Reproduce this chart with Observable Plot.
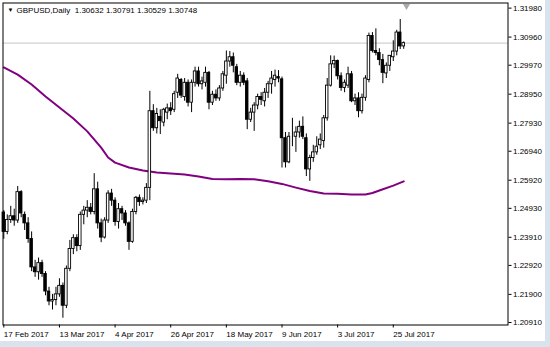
<!DOCTYPE html>
<html>
<head>
<meta charset="utf-8">
<script src="https://cdn.jsdelivr.net/npm/d3@7"></script>
<script src="https://cdn.jsdelivr.net/npm/@observablehq/plot@0.6"></script>
<style>
  html, body { margin: 0; padding: 0; background: #d9e3ee; }
  #chart { width: 545px; height: 341px; background: #ffffff; overflow: hidden; }
  #chart svg { display: block; }
</style>
</head>
<body>
<div id="chart"></div>
<script>
// ---- data (GBPUSD daily, 17 Feb 2017 .. 28 Jul 2017) ----
const opens = [1.2478,1.2410,1.2452,1.2465,1.2450,1.2550,1.2470,1.2440,1.2385,1.2285,1.2268,1.2300,1.2262,1.2200,1.2165,1.2170,1.2190,1.2220,1.2150,1.2280,1.2350,1.2388,1.2360,1.2470,1.2485,1.2495,1.2480,1.2560,1.2440,1.2390,1.2450,1.2545,1.2520,1.2445,1.2490,1.2475,1.2440,1.2375,1.2480,1.2530,1.2515,1.2520,1.2565,1.2835,1.2775,1.2815,1.2795,1.2830,1.2845,1.2840,1.2900,1.2945,1.2885,1.2935,1.2865,1.2935,1.2975,1.2930,1.2935,1.2970,1.2865,1.2893,1.2880,1.2915,1.2960,1.3010,1.3025,1.2990,1.2935,1.2960,1.2940,1.2805,1.2830,1.2855,1.2885,1.2870,1.2900,1.2930,1.2945,1.2955,1.2947,1.2740,1.2655,1.2745,1.2745,1.2760,1.2780,1.2740,1.2630,1.2670,1.2690,1.2715,1.2730,1.2810,1.2925,1.3000,1.3012,1.2958,1.2917,1.2925,1.2965,1.2870,1.2880,1.2835,1.2882,1.2945,1.3100,1.3047,1.3040,1.3015,1.2968,1.2995,1.3025,1.3045,1.3112,1.30632];
const highs = [1.2485,1.2470,1.2500,1.2490,1.2570,1.2555,1.2480,1.2460,1.2410,1.2310,1.2318,1.2310,1.2270,1.2215,1.2190,1.2215,1.2245,1.2230,1.2290,1.2380,1.2400,1.2400,1.2480,1.2500,1.2520,1.2510,1.2615,1.2585,1.2455,1.2460,1.2555,1.2560,1.2530,1.2510,1.2500,1.2485,1.2445,1.2490,1.2535,1.2540,1.2530,1.2580,1.2905,1.2858,1.2845,1.2840,1.2845,1.2860,1.2865,1.2905,1.2965,1.2950,1.2950,1.2945,1.2945,1.2990,1.2990,1.2955,1.2990,1.2975,1.2905,1.2910,1.2925,1.2975,1.3047,1.3045,1.3040,1.3000,1.2975,1.2970,1.2950,1.2845,1.2865,1.2895,1.2900,1.2915,1.2940,1.2975,1.2980,1.2978,1.2955,1.2760,1.2760,1.2810,1.2780,1.2800,1.2815,1.2755,1.2680,1.2715,1.2745,1.2755,1.2820,1.2950,1.3030,1.3029,1.3015,1.2970,1.2945,1.2990,1.2975,1.2895,1.2900,1.2895,1.2960,1.3110,1.3112,1.3125,1.3055,1.3035,1.3005,1.3030,1.3083,1.3120,1.3158,1.30791];
const lows = [1.2384,1.2400,1.2440,1.2430,1.2440,1.2460,1.2415,1.2370,1.2270,1.2250,1.2240,1.2250,1.2185,1.2150,1.2135,1.2150,1.2180,1.2106,1.2140,1.2270,1.2330,1.2340,1.2345,1.2435,1.2460,1.2470,1.2470,1.2420,1.2372,1.2385,1.2440,1.2500,1.2430,1.2420,1.2450,1.2430,1.2345,1.2370,1.2470,1.2500,1.2505,1.2510,1.2520,1.2764,1.2755,1.2753,1.2780,1.2805,1.2820,1.2830,1.2880,1.2880,1.2870,1.2850,1.2830,1.2920,1.2920,1.2910,1.2920,1.2840,1.2855,1.2870,1.2870,1.2905,1.2930,1.2990,1.2970,1.2925,1.2920,1.2925,1.2770,1.2795,1.2764,1.2840,1.2855,1.2850,1.2880,1.2895,1.2920,1.2935,1.2635,1.2635,1.2650,1.2710,1.2690,1.2740,1.2735,1.2605,1.2588,1.2655,1.2680,1.2700,1.2705,1.2800,1.2920,1.2985,1.2945,1.2905,1.2900,1.2915,1.2865,1.2855,1.2812,1.2825,1.2870,1.2935,1.3040,1.3030,1.2995,1.2932,1.2950,1.2975,1.3010,1.3030,1.3052,1.30529];
const closes = [1.2410,1.2452,1.2465,1.2450,1.2550,1.2475,1.2440,1.2385,1.2285,1.2268,1.2300,1.2262,1.2200,1.2165,1.2170,1.2190,1.2220,1.2150,1.2280,1.2350,1.2388,1.2360,1.2470,1.2485,1.2495,1.2480,1.2560,1.2440,1.2390,1.2450,1.2545,1.2520,1.2445,1.2490,1.2475,1.2440,1.2375,1.2480,1.2530,1.2515,1.2520,1.2565,1.2835,1.2775,1.2825,1.2800,1.2840,1.2845,1.2835,1.2895,1.2950,1.2890,1.2935,1.2865,1.2935,1.2975,1.2930,1.2940,1.2970,1.2865,1.2893,1.2880,1.2915,1.2965,1.3010,1.3025,1.2995,1.2935,1.2960,1.2935,1.2805,1.2830,1.2855,1.2885,1.2875,1.2900,1.2930,1.2950,1.2960,1.2950,1.2740,1.2655,1.2745,1.2745,1.2760,1.2780,1.2745,1.2630,1.2670,1.2690,1.2710,1.2735,1.2810,1.2925,1.3000,1.3012,1.2958,1.2917,1.2935,1.2965,1.2870,1.2880,1.2835,1.2882,1.2950,1.3100,1.3047,1.3040,1.3015,1.2970,1.2995,1.3030,1.3045,1.3112,1.3063,1.30748];

// moving average (purple), sampled at bar indexes
const maIndex = [0,4,8,12,16,20,24,28,30,32,36,40,44,48,52,56,60,64,68,72,76,80,84,88,92,96,100,104,106,108,112,115];
const maValues = [1.2989,1.2964,1.2929,1.2887,1.2848,1.2809,1.2764,1.2707,1.2672,1.2654,1.2637,1.2626,1.2619,1.2616,1.2612,1.2605,1.2596,1.2595,1.2596,1.2595,1.2588,1.2579,1.2566,1.2554,1.2545,1.2544,1.2542,1.2542,1.2547,1.2556,1.2573,1.2588];

const xTickIndex = [0,16,32,48,64,80,96,112];
const xTickLabels = ["17 Feb 2017","13 Mar 2017","4 Apr 2017","26 Apr 2017","18 May 2017","9 Jun 2017","3 Jul 2017","25 Jul 2017"];
const yTicks = [1.20910,1.21900,1.22920,1.23910,1.24930,1.25920,1.26940,1.27930,1.28950,1.29970,1.30960,1.31980];

const symbolName = "GBPUSD,Daily";

// ---- build table ----
const bars = opens.map((o, i) => ({i, open: o, high: highs[i], low: lows[i], close: closes[i]}));
const bull = bars.filter(d => d.close >= d.open);
const bear = bars.filter(d => d.close < d.open);
const ma = maIndex.map((i, k) => ({i, v: maValues[k]}));
const last = bars[bars.length - 1];
const header = `${symbolName}  ${last.open.toFixed(5)} ${last.high.toFixed(5)} ${last.low.toFixed(5)} ${last.close.toFixed(5)}`;
const half = 0.36;

const svg = Plot.plot({
  width: 545,
  height: 341,
  marginLeft: 2.5,
  marginRight: 37.5,
  marginTop: 2.5,
  marginBottom: 16.5,
  style: {fontFamily: "'Liberation Sans', Arial, sans-serif", fontSize: "8px", background: "transparent", color: "#000"},
  x: {type: "linear", domain: [-0.23, 144.99]},
  y: {type: "linear", domain: [1.20822, 1.32160]},
  marks: [
    Plot.ruleY([last.close], {stroke: "#c6c6c6", strokeWidth: 1}),
    Plot.line(ma, {x: "i", y: "v", stroke: "#800080", strokeWidth: 2}),
    Plot.ruleX(bars, {x: "i", y1: "low", y2: "high", stroke: "#000", strokeWidth: 1}),
    Plot.rect(bull, {x1: d => d.i - half, x2: d => d.i + half, y1: "open", y2: "close", fill: "#ffffff", stroke: "#000", strokeWidth: 0.9}),
    Plot.rect(bear, {x1: d => d.i - half, x2: d => d.i + half, y1: "open", y2: "close", fill: "#000", stroke: "#000", strokeWidth: 0.9}),
    Plot.frame({stroke: "#000", strokeWidth: 1}),
    Plot.axisY({anchor: "right", ticks: yTicks, tickFormat: d => d.toFixed(5), tickSize: 3, tickPadding: 2, label: null}),
    Plot.axisX({ticks: xTickIndex, tickSize: 3, tickFormat: () => "", label: null}),
    Plot.text(xTickIndex, {x: d => d, text: (d, k) => xTickLabels[k], frameAnchor: "bottom", textAnchor: "start", lineAnchor: "middle", dy: 9}),
    Plot.text(["\u25BC"], {frameAnchor: "top-left", dx: 4.5, dy: 7, textAnchor: "start", lineAnchor: "middle", fontSize: 6}),
    Plot.text([header], {frameAnchor: "top-left", dx: 13.5, dy: 7, textAnchor: "start", lineAnchor: "middle"}),
    Plot.dot([bars.length - 0.2], {x: d => d, frameAnchor: "top", symbol: "triangle", rotate: 180, r: 2.6, fill: "#a9a9a9", dy: 3}),
    Plot.text([last.close], {y: d => d, text: d => d.toFixed(5), frameAnchor: "right", dx: 4.5, textAnchor: "start", lineAnchor: "middle", fill: "#fff", ariaLabel: "last price"})
  ]
});
document.getElementById("chart").append(svg);

// black background box behind the current-price label, sized from the text itself
d3.select(svg).selectAll('g[aria-label="last price"] text').each(function() {
  const b = this.getBBox();
  d3.select(this.parentNode).insert("rect", () => this)
    .attr("x", b.x - 3).attr("y", b.y - 0.5)
    .attr("width", b.width + 7).attr("height", b.height + 1)
    .attr("transform", this.getAttribute("transform"))
    .attr("fill", "#000");
});
</script>
</body>
</html>
